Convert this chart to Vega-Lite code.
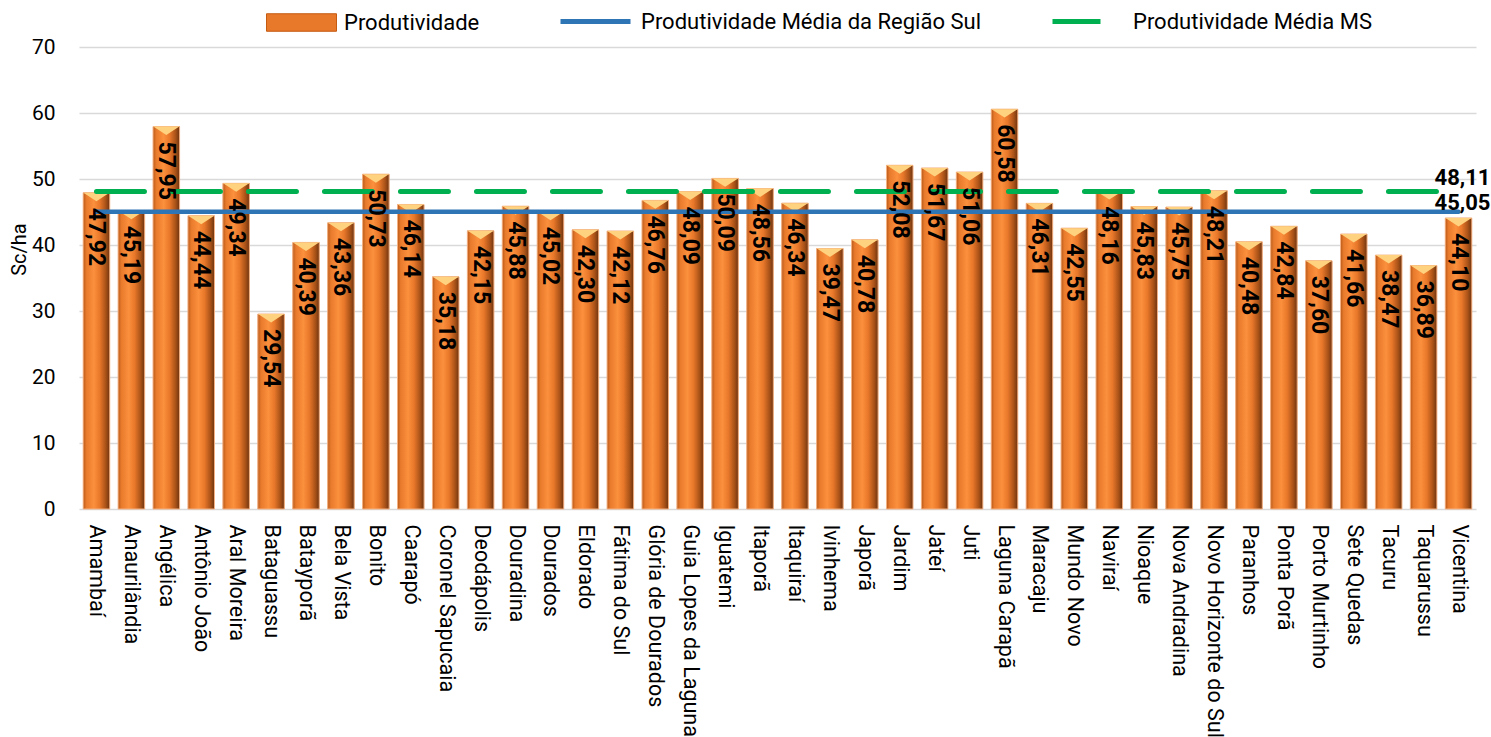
{
  "$schema": "https://vega.github.io/schema/vega-lite/v6.json",
  "autosize": "none",
  "width": 1397,
  "height": 462,
  "padding": {"left": 79, "top": 47, "right": 15, "bottom": 228},
  "background": "white",
  "config": {
    "locale": {"number": {"decimal": ",", "thousands": ".", "grouping": [3], "currency": ["R$", ""]}},
    "view": {"stroke": null},
    "font": "Roboto",
    "axis": {"labelFont": "Roboto", "titleFont": "Roboto", "labelColor": "#000000", "titleColor": "#000000"},
    "legend": {"labelFont": "Roboto", "labelFontSize": 22, "labelColor": "#000000", "labelLimit": 600, "padding": 0, "orient": "none", "symbolOpacity": 1}
  },
  "resolve": {"scale": {"color": "independent"}, "legend": {"color": "independent"}},
  "datasets": {
    "municipios": [
      {"municipio": "Amambaí", "produtividade": 47.92, "media_sul": 45.05, "media_ms": 48.11},
      {"municipio": "Anaurilândia", "produtividade": 45.19, "media_sul": 45.05, "media_ms": 48.11},
      {"municipio": "Angélica", "produtividade": 57.95, "media_sul": 45.05, "media_ms": 48.11},
      {"municipio": "Antônio João", "produtividade": 44.44, "media_sul": 45.05, "media_ms": 48.11},
      {"municipio": "Aral Moreira", "produtividade": 49.34, "media_sul": 45.05, "media_ms": 48.11},
      {"municipio": "Bataguassu", "produtividade": 29.54, "media_sul": 45.05, "media_ms": 48.11},
      {"municipio": "Batayporã", "produtividade": 40.39, "media_sul": 45.05, "media_ms": 48.11},
      {"municipio": "Bela Vista", "produtividade": 43.36, "media_sul": 45.05, "media_ms": 48.11},
      {"municipio": "Bonito", "produtividade": 50.73, "media_sul": 45.05, "media_ms": 48.11},
      {"municipio": "Caarapó", "produtividade": 46.14, "media_sul": 45.05, "media_ms": 48.11},
      {"municipio": "Coronel Sapucaia", "produtividade": 35.18, "media_sul": 45.05, "media_ms": 48.11},
      {"municipio": "Deodápolis", "produtividade": 42.15, "media_sul": 45.05, "media_ms": 48.11},
      {"municipio": "Douradina", "produtividade": 45.88, "media_sul": 45.05, "media_ms": 48.11},
      {"municipio": "Dourados", "produtividade": 45.02, "media_sul": 45.05, "media_ms": 48.11},
      {"municipio": "Eldorado", "produtividade": 42.30, "media_sul": 45.05, "media_ms": 48.11},
      {"municipio": "Fátima do Sul", "produtividade": 42.12, "media_sul": 45.05, "media_ms": 48.11},
      {"municipio": "Glória de Dourados", "produtividade": 46.76, "media_sul": 45.05, "media_ms": 48.11},
      {"municipio": "Guia Lopes da Laguna", "produtividade": 48.09, "media_sul": 45.05, "media_ms": 48.11},
      {"municipio": "Iguatemi", "produtividade": 50.09, "media_sul": 45.05, "media_ms": 48.11},
      {"municipio": "Itaporã", "produtividade": 48.56, "media_sul": 45.05, "media_ms": 48.11},
      {"municipio": "Itaquiraí", "produtividade": 46.34, "media_sul": 45.05, "media_ms": 48.11},
      {"municipio": "Ivinhema", "produtividade": 39.47, "media_sul": 45.05, "media_ms": 48.11},
      {"municipio": "Japorã", "produtividade": 40.78, "media_sul": 45.05, "media_ms": 48.11},
      {"municipio": "Jardim", "produtividade": 52.08, "media_sul": 45.05, "media_ms": 48.11},
      {"municipio": "Jateí", "produtividade": 51.67, "media_sul": 45.05, "media_ms": 48.11},
      {"municipio": "Juti", "produtividade": 51.06, "media_sul": 45.05, "media_ms": 48.11},
      {"municipio": "Laguna Carapã", "produtividade": 60.58, "media_sul": 45.05, "media_ms": 48.11},
      {"municipio": "Maracaju", "produtividade": 46.31, "media_sul": 45.05, "media_ms": 48.11},
      {"municipio": "Mundo Novo", "produtividade": 42.55, "media_sul": 45.05, "media_ms": 48.11},
      {"municipio": "Naviraí", "produtividade": 48.16, "media_sul": 45.05, "media_ms": 48.11},
      {"municipio": "Nioaque", "produtividade": 45.83, "media_sul": 45.05, "media_ms": 48.11},
      {"municipio": "Nova Andradina", "produtividade": 45.75, "media_sul": 45.05, "media_ms": 48.11},
      {"municipio": "Novo Horizonte do Sul", "produtividade": 48.21, "media_sul": 45.05, "media_ms": 48.11},
      {"municipio": "Paranhos", "produtividade": 40.48, "media_sul": 45.05, "media_ms": 48.11},
      {"municipio": "Ponta Porã", "produtividade": 42.84, "media_sul": 45.05, "media_ms": 48.11},
      {"municipio": "Porto Murtinho", "produtividade": 37.60, "media_sul": 45.05, "media_ms": 48.11},
      {"municipio": "Sete Quedas", "produtividade": 41.66, "media_sul": 45.05, "media_ms": 48.11},
      {"municipio": "Tacuru", "produtividade": 38.47, "media_sul": 45.05, "media_ms": 48.11},
      {"municipio": "Taquarussu", "produtividade": 36.89, "media_sul": 45.05, "media_ms": 48.11},
      {"municipio": "Vicentina", "produtividade": 44.10, "media_sul": 45.05, "media_ms": 48.11}
    ],
    "medias": [
      {"municipio": "Vicentina", "serie": "Produtividade Média MS", "valor": 48.11},
      {"municipio": "Vicentina", "serie": "Produtividade Média da Região Sul", "valor": 45.05}
    ]
  },
  "data": {"name": "municipios"},
  "encoding": {
    "x": {
      "field": "municipio", "type": "nominal", "sort": null,
      "scale": {"paddingInner": 0.24, "paddingOuter": 0.12},
      "axis": {"title": null, "labelAngle": 90, "labelFontSize": 21.5, "labelPadding": 15, "ticks": false, "domain": false, "grid": false, "labelLimit": 400}
    }
  },
  "layer": [
    {
      "mark": {"type": "bar"},
      "encoding": {
        "y": {
          "field": "produtividade", "type": "quantitative",
          "scale": {"domain": [0, 70], "nice": false},
          "axis": {
            "title": "Sc/ha", "titleFontSize": 20, "titleFontWeight": "normal", "titleAngle": -90,
            "titleX": -60, "titleY": 202, "titleAlign": "center", "titleBaseline": "middle",
            "values": [0, 10, 20, 30, 40, 50, 60, 70], "labelFontSize": 21, "labelPadding": 24,
            "ticks": false, "domain": false, "grid": true, "gridColor": "#d9d9d9", "gridWidth": 1.5
          }
        },
        "color": {
          "datum": "Produtividade", "type": "nominal",
          "scale": {"domain": ["Produtividade"], "range": ["#e8782a"]},
          "legend": {
            "title": null, "legendX": 187, "legendY": -60, "direction": "horizontal",
            "symbolType": "M-1,-0.25L1,-0.25L1,0.25L-1,0.25Z", "symbolSize": 4900,
            "symbolStrokeColor": "#c55a11", "symbolStrokeWidth": 1, "labelOffset": 7
          }
        }
      }
    },
    {
      "mark": {
        "type": "bar", "stroke": "#f4b183", "strokeWidth": 1,
        "fill": {
          "gradient": "linear", "x1": 0, "y1": 0, "x2": 1, "y2": 0,
          "stops": [
            {"offset": 0, "color": "#b85a1a"},
            {"offset": 0.12, "color": "#e87a2c"},
            {"offset": 0.4, "color": "#fb903d"},
            {"offset": 0.62, "color": "#e9782a"},
            {"offset": 0.85, "color": "#a95218"},
            {"offset": 1, "color": "#6e3410"}
          ]
        }
      },
      "encoding": {"y": {"field": "produtividade", "type": "quantitative"}}
    },
    {
      "mark": {"type": "point", "shape": "M-1,-1L1,-1L0,-0.35Z", "size": 676, "filled": true, "fill": "#ffd27f", "opacity": 1, "yOffset": 13, "strokeWidth": 0},
      "encoding": {"y": {"field": "produtividade", "type": "quantitative"}}
    },
    {
      "mark": {"type": "line", "strokeWidth": 5, "strokeDash": [48, 28], "strokeCap": "round"},
      "encoding": {
        "y": {"field": "media_ms", "type": "quantitative"},
        "color": {
          "datum": "Produtividade Média MS", "type": "nominal",
          "scale": {"domain": ["Produtividade Média MS"], "range": ["#00b050"]},
          "legend": {
            "title": null, "legendX": 971, "legendY": -63, "direction": "horizontal",
            "symbolType": "stroke", "symbolSize": 4900, "symbolStrokeWidth": 5,
            "symbolDash": [48, 40], "labelOffset": 8
          }
        }
      }
    },
    {
      "mark": {"type": "line", "strokeWidth": 4.5, "strokeCap": "round"},
      "encoding": {
        "y": {"field": "media_sul", "type": "quantitative"},
        "color": {
          "datum": "Produtividade Média da Região Sul", "type": "nominal",
          "scale": {"domain": ["Produtividade Média da Região Sul"], "range": ["#2e75b6"]},
          "legend": {
            "title": null, "legendX": 479, "legendY": -63, "direction": "horizontal",
            "symbolType": "stroke", "symbolSize": 4900, "symbolStrokeWidth": 5, "labelOffset": 8
          }
        }
      }
    },
    {
      "mark": {"type": "text", "angle": 90, "align": "left", "baseline": "middle", "dx": 15, "fontSize": 23, "fontWeight": "bold", "color": "#000000"},
      "encoding": {
        "y": {"field": "produtividade", "type": "quantitative"},
        "text": {"field": "produtividade", "type": "quantitative", "format": ".2f"}
      }
    },
    {
      "data": {"name": "medias"},
      "transform": [{"filter": "datum.serie === 'Produtividade Média MS'"}],
      "mark": {"type": "text", "align": "center", "baseline": "alphabetic", "dx": 4, "dy": -6, "fontSize": 22, "fontWeight": "bold", "color": "#000000"},
      "encoding": {
        "y": {"field": "valor", "type": "quantitative"},
        "text": {"field": "valor", "type": "quantitative", "format": ".2f"}
      }
    },
    {
      "data": {"name": "medias"},
      "transform": [{"filter": "datum.serie === 'Produtividade Média da Região Sul'"}],
      "mark": {"type": "text", "align": "center", "baseline": "alphabetic", "dx": 4, "dy": -2, "fontSize": 22, "fontWeight": "bold", "color": "#000000"},
      "encoding": {
        "y": {"field": "valor", "type": "quantitative"},
        "text": {"field": "valor", "type": "quantitative", "format": ".2f"}
      }
    }
  ]
}
